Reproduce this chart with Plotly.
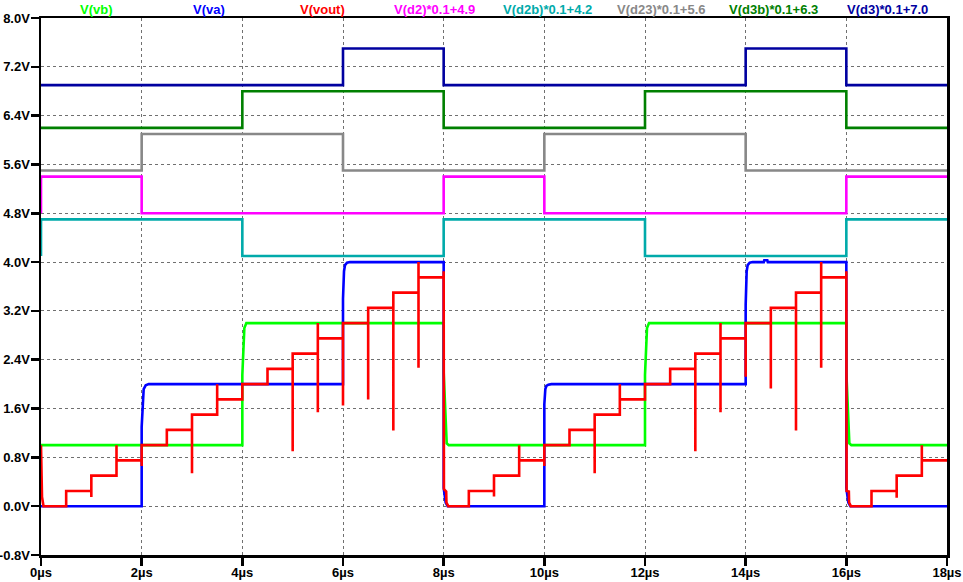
import plotly.graph_objects as go

# ---------------- data ----------------
# V(vb)  (green)
vb_t = [0, 4.0, 4.0, 4.02, 4.04, 4.08, 8.0, 8.0, 8.05, 8.06, 8.1, 12.0, 12.0, 12.02, 12.04, 12.08, 16.0, 16.0, 16.05, 16.06, 16.1, 18]
vb_v = [1.0, 1.0, 2.15, 2.73, 2.92, 3.0, 3.0, 2.2, 1.4, 1.03, 1.0, 1.0, 2.15, 2.73, 2.92, 3.0, 3.0, 2.2, 1.4, 1.03, 1.0, 1.0]

# V(va)  (blue)
va_t = [0, 2.0, 2.0, 2.02, 2.04, 2.08, 2.14,
        6.0, 6.0, 6.02, 6.04, 6.08, 6.14,
        8.0, 8.0, 8.04, 8.08,
        10.0, 10.0, 10.02, 10.04, 10.08, 10.14,
        14.0, 14.0, 14.02, 14.04, 14.08, 14.14, 14.36, 14.37, 14.43, 14.44,
        16.0, 16.0, 16.04, 16.08, 18]
va_v = [0, 0, 1.3, 1.7, 1.92, 1.98, 2.0,
        2.0, 3.4, 3.85, 3.95, 3.99, 4.0,
        4.0, 0.3, 0.06, 0.0,
        0.0, 1.67, 1.92, 1.97, 1.99, 2.0,
        2.0, 3.3, 3.85, 3.95, 3.99, 4.0, 4.0, 4.03, 4.03, 4.0,
        4.0, 0.3, 0.06, 0.0, 0.0]

# V(vout)  (red)
vout_t = [0, 0.005, 0.02, 0.05,
          0.5, 0.5,
          1.0, 1.0, 1.0,
          1.5, 1.5, 1.5,
          2.0, 2.0, 2.0,
          2.5, 2.5,
          3.0, 3.0, 3.0,
          3.5, 3.5, 3.5,
          4.0, 4.0,
          4.5, 4.5,
          5.0, 5.0, 5.0,
          5.5, 5.5, 5.5, 5.5,
          6.0, 6.0, 6.0,
          6.5, 6.5, 6.5,
          7.0, 7.0, 7.0,
          7.5, 7.5, 7.5, 7.5,
          8.0, 8.0, 8.005, 8.05, 8.055, 8.09,
          8.5, 8.5,
          9.0, 9.0, 9.0,
          9.5, 9.5, 9.5,
          10.0, 10.0, 10.0,
          10.5, 10.5,
          11.0, 11.0, 11.0,
          11.5, 11.5, 11.5,
          12.0, 12.0,
          12.5, 12.5,
          13.0, 13.0, 13.0,
          13.5, 13.5, 13.5, 13.5,
          14.0, 14.0, 14.0,
          14.5, 14.5, 14.5,
          15.0, 15.0, 15.0,
          15.5, 15.5, 15.5, 15.5,
          16.0, 16.0, 16.005, 16.05, 16.055, 16.09,
          16.5, 16.5,
          17.0, 17.0, 17.0,
          17.5, 17.5, 17.5,
          18.0]
vout_v = [1.0, 0.47, 0.15, 0.0,
          0.0, 0.25,
          0.25, 0.15, 0.5,
          0.5, 1.0, 0.75,
          0.75, 0.66, 1.0,
          1.0, 1.25,
          1.25, 0.54, 1.5,
          1.5, 2.0, 1.75,
          1.75, 2.0,
          2.0, 2.25,
          2.25, 0.9, 2.5,
          2.5, 3.0, 1.54, 2.75,
          2.75, 1.65, 3.0,
          3.0, 1.75, 3.25,
          3.25, 1.24, 3.5,
          3.5, 4.0, 2.27, 3.75,
          3.75, 3.85, 0.28, 0.24, 0.06, 0.0,
          0.0, 0.25,
          0.25, 0.16, 0.5,
          0.5, 1.0, 0.75,
          0.75, 0.66, 1.0,
          1.0, 1.25,
          1.25, 0.54, 1.5,
          1.5, 2.0, 1.75,
          1.75, 2.0,
          2.0, 2.25,
          2.25, 0.9, 2.5,
          2.5, 3.0, 1.54, 2.75,
          2.75, 2.12, 3.0,
          3.0, 1.93, 3.25,
          3.25, 1.24, 3.5,
          3.5, 4.0, 2.27, 3.75,
          3.75, 3.85, 0.25, 0.24, 0.06, 0.0,
          0.0, 0.25,
          0.25, 0.14, 0.5,
          0.5, 1.0, 0.75,
          0.75]

# digital nodes (step traces), raw node voltages
d2_t = [0, 0, 2, 8, 10, 16, 18]
d2_v = [-1, 5, -1, 5, -1, 5, 5]
d2b_t = [0, 0, 4, 8, 12, 16, 18]
d2b_v = [-1, 5, -1, 5, -1, 5, 5]
d23_t = [0, 2, 6, 10, 14, 18]
d23_v = [-1, 5, -1, 5, -1, -1]
d3b_t = [0, 4, 8, 12, 16, 18]
d3b_v = [-1, 5, -1, 5, -1, -1]
d3_t = [0, 6, 8, 14, 16, 18]
d3_v = [-1, 5, -1, 5, -1, -1]

digital_scale = 0.1
d2_offset, d2b_offset, d23_offset, d3b_offset, d3_offset = 4.9, 4.2, 5.6, 6.3, 7.0

trace_labels = ["V(vb)", "V(va)", "V(vout)", "V(d2)*0.1+4.9", "V(d2b)*0.1+4.2",
                "V(d23)*0.1+5.6", "V(d3b)*0.1+6.3", "V(d3)*0.1+7.0"]

x_tick_vals = [0, 2, 4, 6, 8, 10, 12, 14, 16, 18]
x_tick_text = ["0µs", "2µs", "4µs", "6µs", "8µs", "10µs", "12µs", "14µs", "16µs", "18µs"]
y_tick_vals = [-0.8, 0.0, 0.8, 1.6, 2.4, 3.2, 4.0, 4.8, 5.6, 6.4, 7.2, 8.0]
y_tick_text = ["-0.8V", "0.0V", "0.8V", "1.6V", "2.4V", "3.2V", "4.0V", "4.8V", "5.6V", "6.4V", "7.2V", "8.0V"]

# ---------------- style ----------------
colors = ["#00FF00", "#0000FF", "#FF0000", "#FF00FF", "#00AAAA", "#888888", "#008000", "#0000A0"]
LW = 2.6
label_px = [96, 209, 322, 434, 547, 661, 773, 887]
FONT = "Liberation Sans, Arial, sans-serif"

fig = go.Figure()

def add(x, y, color, shape="linear"):
    fig.add_trace(go.Scatter(x=x, y=y, mode="lines", line=dict(color=color, width=LW, shape=shape),
                             showlegend=False, hoverinfo="skip"))

add(vb_t, vb_v, colors[0])
add(va_t, va_v, colors[1])
add(vout_t, vout_v, colors[2])
for (tt, vv, off, col) in [(d2_t, d2_v, d2_offset, colors[3]),
                           (d2b_t, d2b_v, d2b_offset, colors[4]),
                           (d23_t, d23_v, d23_offset, colors[5]),
                           (d3b_t, d3b_v, d3b_offset, colors[6]),
                           (d3_t, d3_v, d3_offset, colors[7])]:
    add(tt, [v * digital_scale + off for v in vv], col, shape="hv")

# plot area target: x 41..947, y 18..555
W, H = 963, 582
L, T = 41, 18
R = W - 947
B = H - 555
PW = W - L - R

for lab, px, col in zip(trace_labels, label_px, colors):
    fig.add_annotation(text=lab, x=(px - L) / PW, xref="paper", y=1, yref="paper",
                       yshift=9, xanchor="center", yanchor="middle", showarrow=False,
                       font=dict(family=FONT, size=13, color=col, weight=700))

axis_common = dict(showgrid=True, gridcolor="#707070", gridwidth=1, griddash="3px,3px",
                   showline=True, linecolor="black", linewidth=2.5, mirror=True,
                   ticks="outside", ticklen=8, tickwidth=2.5, tickcolor="black",
                   zeroline=False, automargin=False,
                   tickfont=dict(family=FONT, size=13, color="black", weight=700))

fig.update_xaxes(range=[0, 18], tickmode="array", tickvals=x_tick_vals, ticktext=x_tick_text,
                 ticklabelstandoff=-4, **axis_common)
fig.update_yaxes(range=[-0.8, 8.0], tickmode="array", tickvals=y_tick_vals, ticktext=y_tick_text,
                 ticklabelstandoff=-2, **axis_common)

fig.update_layout(width=W, height=H, margin=dict(l=L, r=R, t=T, b=B, pad=0),
                  paper_bgcolor="white", plot_bgcolor="white", showlegend=False)

# remove the page's default body margin so the figure sits at the window's corner
fig.write_html("out.html",
               config={"displayModeBar": False, "staticPlot": True},
               post_script="document.body.style.margin='0';document.body.style.padding='0';"
                           "document.body.style.overflow='hidden';")
